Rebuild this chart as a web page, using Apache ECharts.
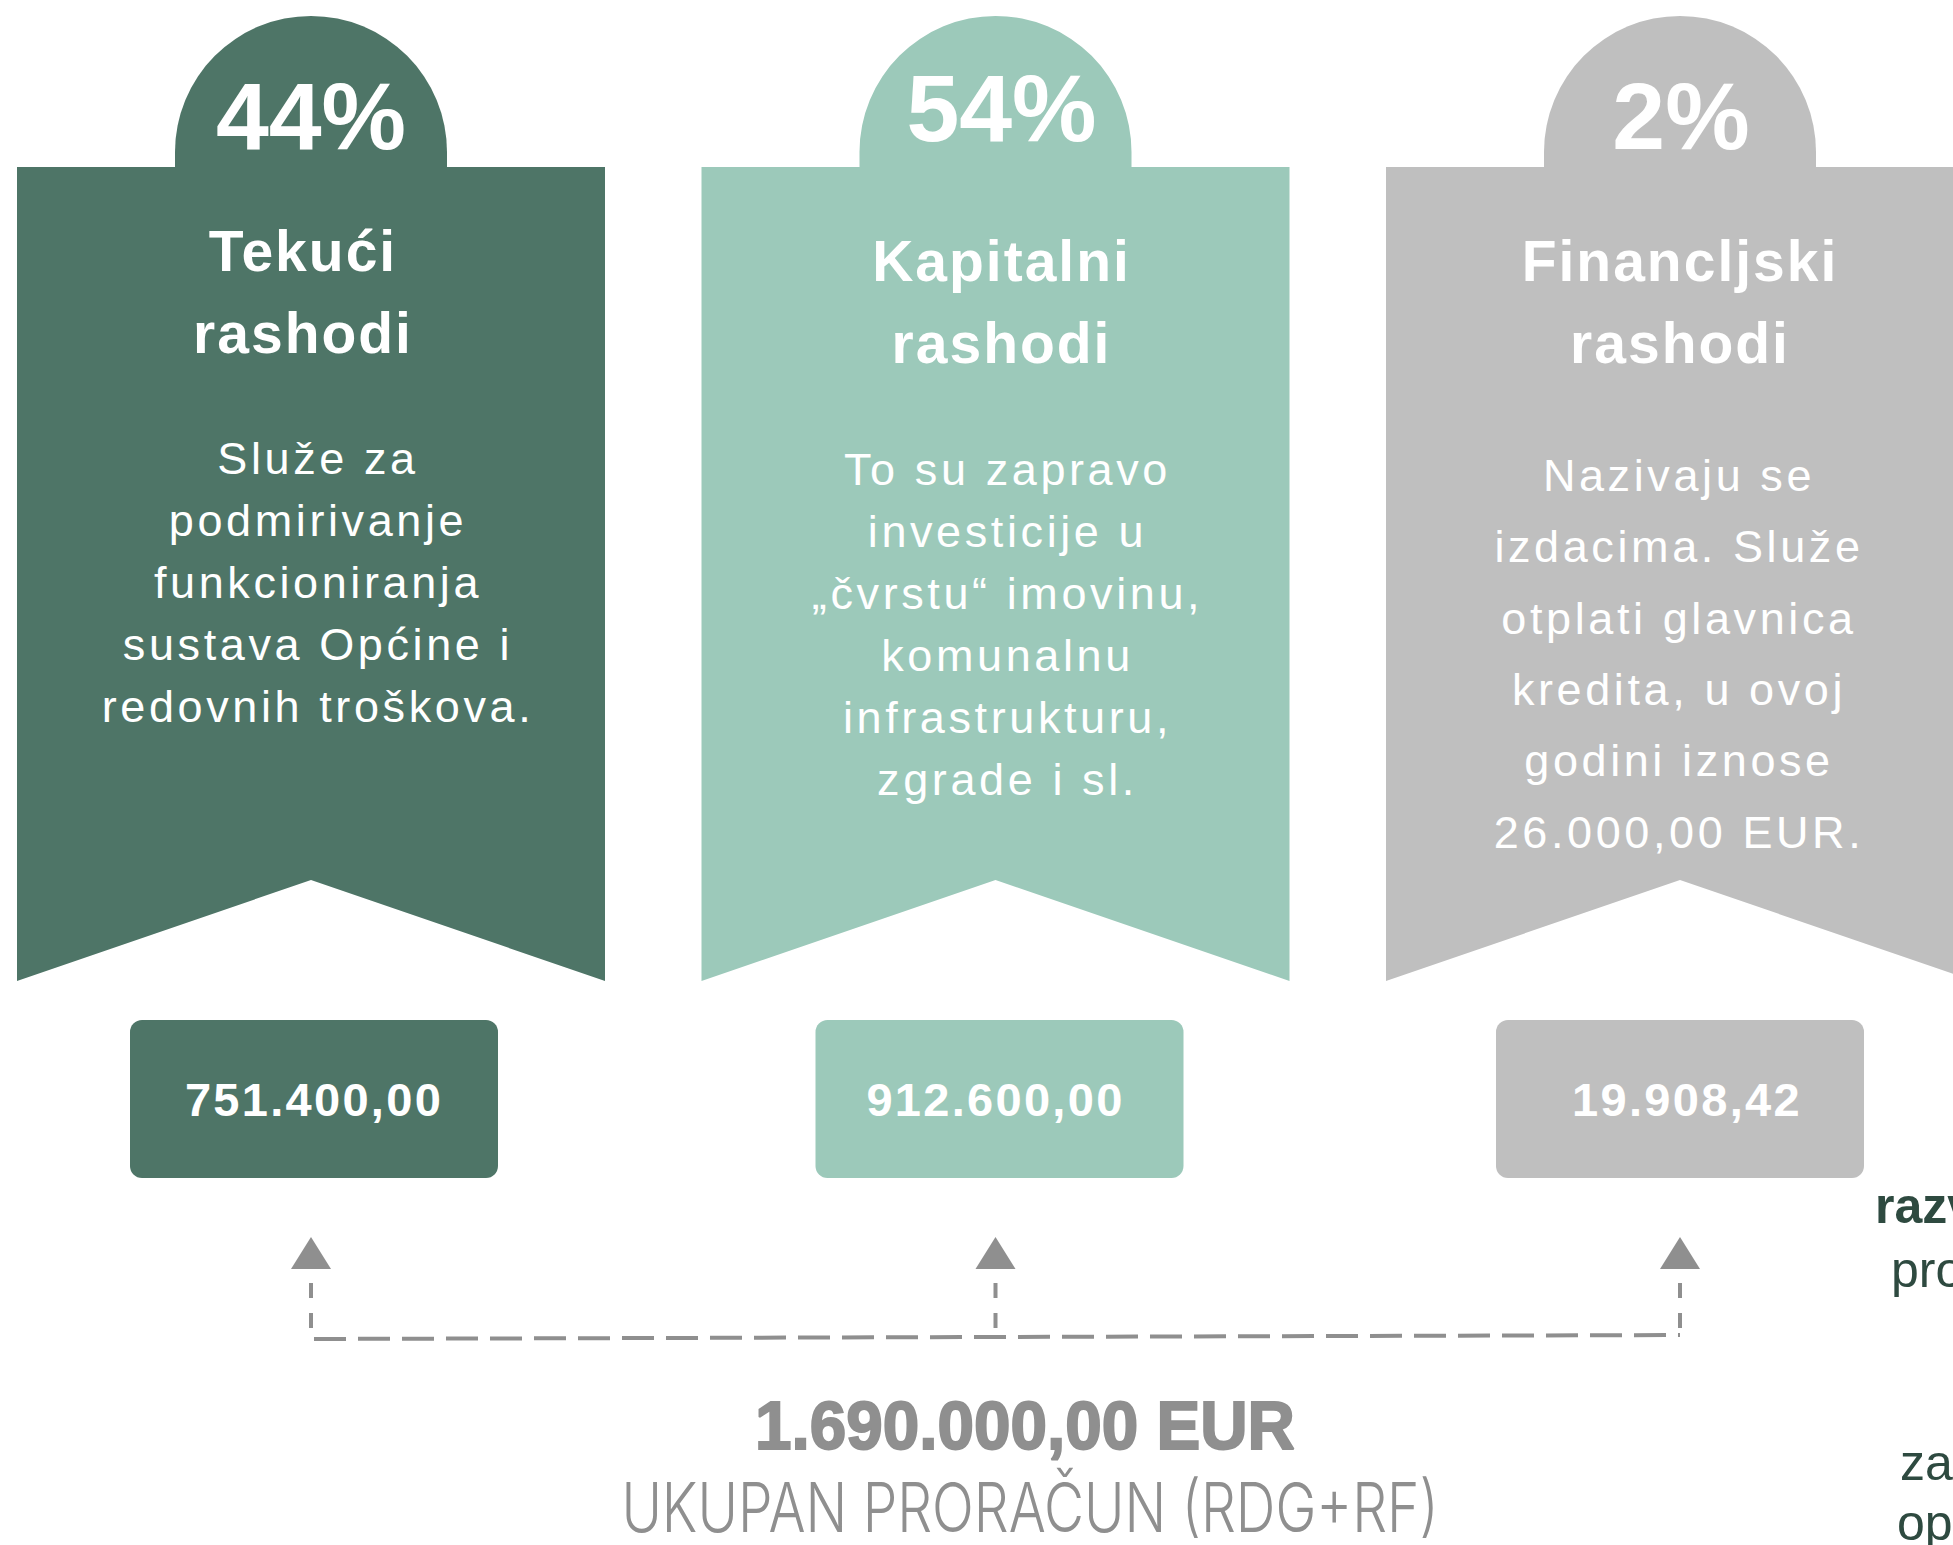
<!DOCTYPE html>
<html>
<head>
<meta charset="utf-8">
<title>Rashodi proračuna</title>
<script src="https://cdn.jsdelivr.net/npm/echarts@6/dist/echarts.min.js"></script>
<style>
  html, body { margin: 0; padding: 0; background: #fff; }
  #main { width: 1953px; height: 1545px; }
  /* zrender nema razmak slova, pa ga dodajemo SVG tekstu preko CSS-a */
  #main text[style*="57px"] { letter-spacing: 2px; }
  #main text[style*="45px"] { letter-spacing: 3.6px; }
  #main text[style*="47px"] { letter-spacing: 2.3px; }
</style>
</head>
<body>
<div id="main"></div>
<script>
// podaci
const categories = ['Tekući rashodi', 'Kapitalni rashodi', 'Financljski rashodi'];
const titleLines = [['Tekući', 'rashodi'], ['Kapitalni', 'rashodi'], ['Financljski', 'rashodi']];
const shares = [44, 54, 2];
const amounts = [751400, 912600, 19908.42];
const descriptions = [
  ['Služe za', 'podmirivanje', 'funkcioniranja', 'sustava Općine i', 'redovnih troškova.'],
  ['To su zapravo', 'investicije u', '„čvrstu“ imovinu,', 'komunalnu', 'infrastrukturu,', 'zgrade i sl.'],
  ['Nazivaju se', 'izdacima. Služe', 'otplati glavnica', 'kredita, u ovoj', 'godini iznose', '26.000,00 EUR.']
];
const totalAmount = 1690000;
const totalCaption = 'UKUPAN PRORAČUN (RDG+RF)';
const sideWords = ['razv', 'pro', 'zad', 'opr'];

// izgled
const colors = ['#4E7567', '#9CC9BA', '#BFBFBF'];
const arrowColor = '#8F8F8F';
const sideColor = '#2E4A40';
const FONT = 'Liberation Sans, Arial, sans-serif';
const layout = {
  pctBase: [149, 141, 149], pctDx: [0, 6, 1],
  titleBase: [271, 281, 281], titleDx: [-8, 6, 0],
  bodyBase: [474, 485, 491], bodyStep: [62, 62, 71.4], bodyDx: [7, 12, -1],
  boxDx: [3, 4, 0], valueDx: [3, 0, 7]
};

function fmt(v) {
  const parts = v.toFixed(2).split('.');
  return parts[0].replace(/\B(?=(\d{3})+(?!\d))/g, '.') + ',' + parts[1];
}
// y sredine teksta iz osnovne linije
function mid(base, size) { return base - 0.35 * size; }

const mctx = document.createElement('canvas').getContext('2d');
function textWidth(text, font) { mctx.font = font; return mctx.measureText(text).width; }

function txt(text, x, y, font, fill, align) {
  return {
    type: 'text',
    style: { text: text, x: x, y: y, font: font, fill: fill, textAlign: align || 'center', textVerticalAlign: 'middle', verticalAlign: 'middle' }
  };
}

function renderItem(params, api) {
  const i = params.dataIndex;
  const cx = api.coord([api.value(0), 0])[0];
  const hw = 294, tw = 136;
  const els = [];
  // zastavica
  els.push({ type: 'rect', shape: { x: cx - tw, y: 16, width: 2 * tw, height: 154, r: [tw, tw, 0, 0] }, style: { fill: colors[i] } });
  els.push({ type: 'polygon', shape: { points: [[cx - hw, 167], [cx + hw, 167], [cx + hw, 981], [cx, 880], [cx - hw, 981]] }, style: { fill: colors[i] } });
  // postotak
  els.push(txt(shares[i] + '%', cx + layout.pctDx[i], mid(layout.pctBase[i], 95), 'bold 95px ' + FONT, '#fff'));
  // naslov
  titleLines[i].forEach(function (t, k) {
    els.push(txt(t, cx + layout.titleDx[i], mid(layout.titleBase[i] + k * 82, 57), 'bold 57px ' + FONT, '#fff'));
  });
  // opis
  descriptions[i].forEach(function (t, k) {
    els.push(txt(t, cx + layout.bodyDx[i], mid(layout.bodyBase[i] + k * layout.bodyStep[i], 45), '45px ' + FONT, '#fff'));
  });
  // iznos
  const bx = cx + layout.boxDx[i];
  els.push({ type: 'rect', shape: { x: bx - 184, y: 1020, width: 368, height: 158, r: 12 }, style: { fill: colors[i] } });
  els.push(txt(fmt(amounts[i]), cx + layout.valueDx[i], mid(1116, 47), 'bold 47px ' + FONT, '#fff'));
  // strelica
  els.push({ type: 'polygon', shape: { points: [[cx, 1237], [cx + 20, 1269], [cx - 20, 1269]] }, style: { fill: arrowColor } });
  els.push({ type: 'line', shape: { x1: cx, y1: 1283, x2: cx, y2: 1337 }, style: { stroke: arrowColor, lineWidth: 4, lineDash: [15, 15] } });
  if (i === 0) {
    const xEnd = api.coord([categories.length - 1, 0])[0];
    els.push({ type: 'line', shape: { x1: cx + 3, y1: 1339, x2: xEnd, y2: 1335 }, style: { stroke: arrowColor, lineWidth: 4, lineDash: [32, 12] } });
  }
  return { type: 'group', children: els };
}

const step = 684.5;
const xMin = -311 / step;
const xMax = xMin + 1953 / step;

const totalFont = 'bold 69px ' + FONT;
const captionFont = '300 68px Inter, Roboto, sans-serif';
const totalText = fmt(totalAmount) + ' EUR';
const totalScale = 540 / textWidth(totalText, totalFont);
const captionScale = 817 / textWidth(totalCaption, captionFont);

const sidePos = [[1875, 1223, 'bold'], [1891, 1287, 'normal'], [1900, 1480, 'normal'], [1897, 1540, 'normal']];

const chart = echarts.init(document.getElementById('main'), null, { renderer: 'svg' });
chart.setOption({
  backgroundColor: '#fff',
  animation: false,
  grid: { left: 0, right: 0, top: 0, bottom: 0 },
  xAxis: { type: 'value', min: xMin, max: xMax, show: false },
  yAxis: { type: 'value', min: 0, max: 1, show: false },
  series: [{
    type: 'custom',
    clip: false,
    renderItem: renderItem,
    encode: { x: 0, y: 1 },
    data: categories.map(function (c, i) { return [i, 0, c]; })
  }],
  graphic: [
    { type: 'text', x: 1025, y: mid(1449, 69), scaleX: totalScale,
      style: { text: totalText, font: totalFont, fill: arrowColor, stroke: arrowColor, lineWidth: 2, textAlign: 'center', textVerticalAlign: 'middle', verticalAlign: 'middle' } },
    { type: 'text', x: 1030, y: 1532 - 0.36 * 68, scaleX: captionScale,
      style: { text: totalCaption, font: captionFont, fill: arrowColor, textAlign: 'center', textVerticalAlign: 'middle', verticalAlign: 'middle' } }
  ].concat(sideWords.map(function (w, k) {
    return { type: 'text', x: sidePos[k][0], y: mid(sidePos[k][1], 50),
      style: { text: w, font: sidePos[k][2] + ' 50px ' + FONT, fill: sideColor, textAlign: 'left', textVerticalAlign: 'middle', verticalAlign: 'middle' } };
  }))
});
</script>
</body>
</html>
